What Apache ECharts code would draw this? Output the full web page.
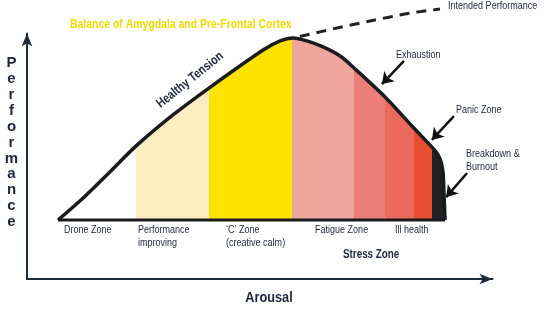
<!DOCTYPE html>
<html><head><meta charset="utf-8">
<script src="https://cdn.jsdelivr.net/npm/echarts@6/dist/echarts.min.js"></script>
<style>html,body{margin:0;padding:0;background:#fff}#c{width:544px;height:323px}</style>
</head><body><div id="c"></div>
<script>
// Curve: arousal (x) vs performance (y), baseline performance = 0
const curveX = [0, 6.5, 13.4, 20.2, 29.7, 39.0, 53.0, 57.4, 60.7, 64.3, 68.5, 72.9, 76.5, 84.5, 91.7, 96.6, 97.9, 99.0, 99.5, 99.7, 100];
const curveY = [0, 12.1, 26.4, 40.7, 57.7, 72.5, 93.4, 98.4, 100, 98.4, 95.1, 90.1, 83.5, 67.6, 51.1, 40.1, 36.8, 31.9, 25.8, 16.5, 0];
// Zone boundaries along the arousal axis and their colours
const zoneEdges = [20.2, 39.0, 60.5, 76.5, 84.5, 92.0, 96.6];
const zoneColors = ['#ffffff', '#fdedbf', '#ffe300', '#eda59c', '#ec7e7a', '#eb6a5d', '#e94f2f', '#202026'];
// Intended performance dashed line
const intendedX = [62.5, 72.1, 80.6, 91.0, 98.7];
const intendedY = [100.8, 105.5, 109.3, 113.7, 115.9];
// Annotation arrows [tailX, tailY, headX, headY]
const arrowExhaustion = [89.4, 87.4, 83.7, 74.7];
const arrowPanic = [102.3, 57.1, 96.6, 44.0];
const arrowBreakdown = [105.7, 25.8, 100.3, 12.6];

const curve = curveX.map((x, i) => [x, curveY[i]]);
const pieces = zoneColors.map((c, i) => {
  const p = { color: c };
  if (i > 0) p.gte = zoneEdges[i - 1];
  if (i < zoneEdges.length) p.lt = zoneEdges[i];
  return p;
});

const FAMILY = '"Liberation Sans", Arial, sans-serif';
const INK = '#1d2639';
function txt(text, x, y, o) {
  o = o || {};
  return {
    type: 'text', x: x, y: y, rotation: o.rotation || 0, scaleX: o.sx || 0.82, z: 100,
    style: {
      text: text, fill: o.fill || INK,
      fontFamily: o.family || FAMILY, fontSize: o.size || 11, fontWeight: o.weight || 'normal',
      align: o.align || 'left', verticalAlign: 'middle', lineHeight: o.lineHeight
    }
  };
}

const chart = echarts.init(document.getElementById('c'), null, { renderer: 'canvas' });
chart.setOption({
  animation: false,
  backgroundColor: '#fff',
  grid: { left: 27, right: 51.5, top: 33.5, bottom: 44 },
  xAxis: {
    type: 'value', min: -8.01, max: 112.27,
    axisLine: { onZero: false, lineStyle: { color: '#1e2a3a', width: 2 }, symbol: ['none', 'arrow'], symbolSize: [8, 13] },
    axisTick: { show: false }, axisLabel: { show: false }, splitLine: { show: false }
  },
  yAxis: {
    type: 'value', min: -32.42, max: 102.47,
    axisLine: { show: true, onZero: false, lineStyle: { color: '#1e2a3a', width: 2 }, symbol: ['none', 'arrow'], symbolSize: [8, 13] },
    axisTick: { show: false }, axisLabel: { show: false }, splitLine: { show: false }
  },
  visualMap: { show: false, type: 'piecewise', dimension: 0, seriesIndex: 0, pieces: pieces },
  series: [
    {
      type: 'line', data: curve, smooth: 0.3, showSymbol: false,
      lineStyle: { width: 0 }, areaStyle: { opacity: 1 }, z: 1
    },
    {
      type: 'line', data: [[0, 0], [100, 0]], showSymbol: false,
      lineStyle: { color: '#1b1b1f', width: 3 }, z: 2
    },
    {
      type: 'line', data: curve, smooth: 0.3, showSymbol: false,
      lineStyle: { color: '#1b1b1f', width: 3.5 }, z: 3
    },
    {
      type: 'line', data: intendedX.map((x, i) => [x, intendedY[i]]), smooth: 0.3, showSymbol: false, clip: false,
      lineStyle: { color: '#222', width: 3, type: [10, 7] }, z: 3
    },
    {
      type: 'lines', coordinateSystem: 'cartesian2d', symbol: ['none', 'arrow'], symbolSize: 11,
      lineStyle: { color: '#111', width: 2.5, opacity: 1, curveness: 0 }, z: 4,
      data: [arrowExhaustion, arrowPanic, arrowBreakdown].map(a => ({ coords: [[a[0], a[1]], [a[2], a[3]]] }))
    }
  ],
  graphic: [
    txt('Balance of Amygdala and Pre-Frontal Cortex', 70, 25, { size: 12, weight: 'bold', fill: '#efdb00', sx: 0.87 }),
    txt('Intended Performance', 448, 6),
    txt('Healthy Tension', 190, 80, { size: 13, weight: 'bold', align: 'center', rotation: 38.7 * Math.PI / 180 }),
    txt('Exhaustion', 396, 55),
    txt('Panic Zone', 456, 110),
    txt('Breakdown &\nBurnout', 466, 160, { lineHeight: 13 }),
    txt('Drone Zone', 64, 230),
    txt('Performance\nimproving', 138, 236.5, { lineHeight: 13 }),
    txt('\u2018C\u2019 Zone\n(creative calm)', 226, 236.5, { lineHeight: 13 }),
    txt('Fatigue Zone', 315, 230),
    txt('Ill health', 395, 230),
    txt('Stress Zone', 343, 255, { size: 12, weight: 'bold' }),
    txt('Arousal', 269, 298, { size: 15, weight: 'bold', align: 'center', sx: 0.85 }),
    txt('P\ne\nr\nf\no\nr\nm\na\nn\nc\ne', 11.5, 142.5, { size: 15, weight: 'bold', align: 'center', lineHeight: 15.9, sx: 1 })
  ]
});
</script>
</body></html>
